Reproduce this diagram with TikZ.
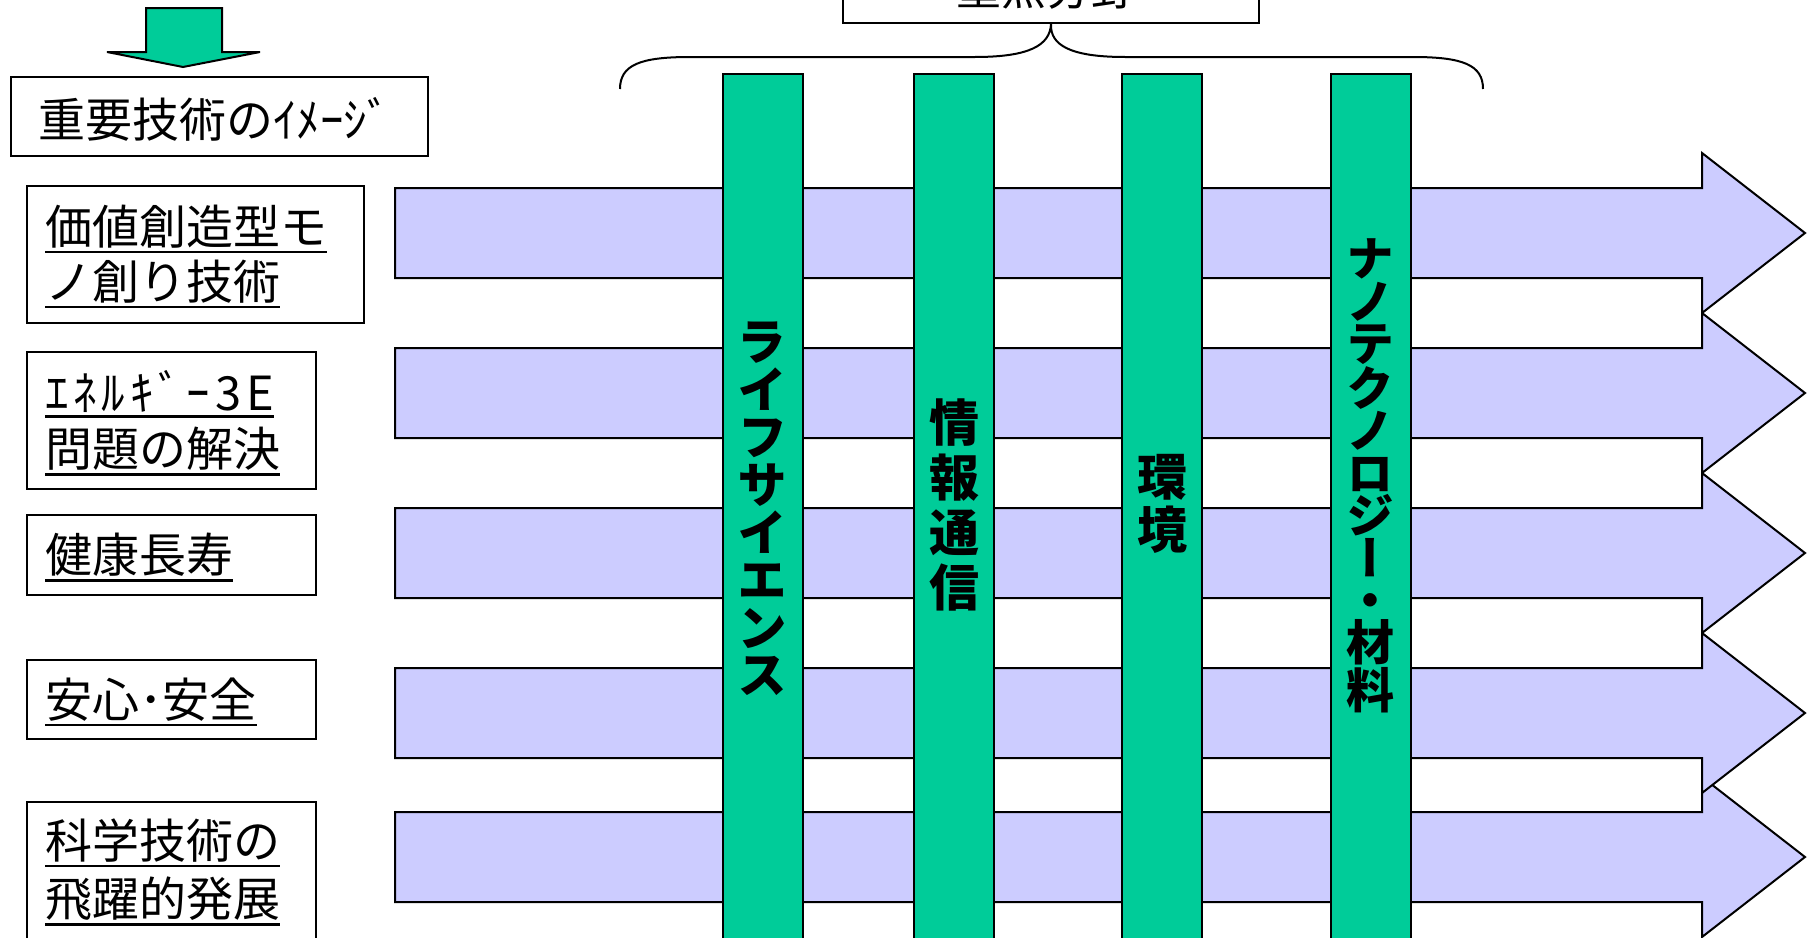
\documentclass[tikz,border=0pt]{standalone}
\usepackage{fontspec}
\setmainfont{Noto Sans CJK JP}
\newfontfamily\jpv{Noto Sans CJK JP}[RawFeature=+vert]
\definecolor{grn}{HTML}{00CC99}
\definecolor{lav}{HTML}{CCCCFF}
\newcommand\uline[1]{\vtop{\hbox{#1}\kern1.4pt\hrule height 1.4pt}}
\begin{document}
\begin{tikzpicture}[x=0.5pt,y=-0.5pt,
  box/.style={draw, line width=1pt, fill=white, inner sep=0pt, anchor=north west},
  lbl/.style={inner sep=0pt, anchor=base west, font=\fontsize{23.5}{28}\selectfont},
  bar/.style={draw, line width=1pt, fill=grn, inner sep=0pt, anchor=north west,
    minimum width=40pt, minimum height=450pt},
  vtxt/.style={inner sep=0pt, align=center, anchor=center},
  arr/.style={draw, line width=1pt, fill=lav, line join=miter}]
\useasboundingbox (0,0) rectangle (1809,937);
\clip (0,0) rectangle (1809,937);

% blue arrows (bottom first)
\foreach \c in {857,713,553,393,233}{
  \draw[arr] (395,\c-45) -- (1702,\c-45) -- (1702,\c-80) -- (1805,\c)
    -- (1702,\c+80) -- (1702,\c+45) -- (395,\c+45) -- cycle;
}

% green bars
\node[bar] (g1) at (722,73) {};
\node[bar] (g2) at (913,73) {};
\node[bar] (g3) at (1121,73) {};
\node[bar] (g4) at (1330,73) {};

\node[vtxt, font=\jpv\bfseries\fontsize{25}{23.8}\selectfont] (v1) at (762,509)
  {ラ\\イ\\フ\\サ\\イ\\エ\\ン\\ス};
\node[vtxt, font=\jpv\bfseries\fontsize{25}{27.5}\selectfont] (v2) at (954,505)
  {情\\報\\通\\信};
\node[vtxt, font=\jpv\bfseries\fontsize{25}{26.5}\selectfont] (v3) at (1162,504)
  {環\\境};
\node[vtxt, font=\jpv\bfseries\fontsize{24}{21.2}\selectfont] (v4) at (1370,476)
  {ナ\\ノ\\テ\\ク\\ノ\\ロ\\ジ\\ー\\・\\材\\料};

% top box and brace
\node[draw, line width=1pt, fill=white, inner sep=0pt, anchor=south west,
  minimum width=208pt, minimum height=45pt] (tb) at (842,24) {};
\node[inner sep=0pt, anchor=base, font=\fontsize{22.5}{27}\selectfont] (tt) at (1046,5) {重点分野};
\draw[line width=1pt] (620,89) .. controls (620,65) and (640,57) .. (690,57)
  -- (975,57) .. controls (1030,57) and (1050,45) .. (tb.south)
  .. controls (1050,45) and (1070,57) .. (1125,57)
  -- (1413,57) .. controls (1463,57) and (1483,65) .. (1483,89);

% down arrow
\draw[line width=1pt, fill=grn] (146,8) -- (222,8) -- (222,52) -- (260,52)
  -- (183,67) -- (107,52) -- (146,52) -- cycle;

% left boxes
\node[box, minimum width=208.5pt, minimum height=39.5pt] (b0) at (10,76) {};
\node[box, minimum width=168.5pt, minimum height=68.5pt] (b1) at (26,185) {};
\node[box, minimum width=144.5pt, minimum height=68.5pt] (b2) at (26,351) {};
\node[box, minimum width=144.5pt, minimum height=40pt] (b3) at (26,514) {};
\node[box, minimum width=144.5pt, minimum height=39.5pt] (b4) at (26,659) {};
\node[box, minimum width=144.5pt, minimum height=80pt] (b5) at (26,801) {};

\node[lbl] (t0) at (38,137) {重要技術のｲﾒｰｼﾞ};
\node[lbl] (t1a) at (45,244) {\uline{価値創造型モ}};
\node[lbl] (t1b) at (45,299) {\uline{ノ創り技術}};
\node[lbl] (t2a) at (45,410) {\uline{ｴ\kern2.4ptﾈ\kern2.4ptﾙ\kern2.4ptｷ\kern2.4ptﾞ\kern2.4ptｰ\kern2.4pt3\kern2.4ptE}};
\node[lbl] (t2b) at (45,466) {\uline{問題の解決}};
\node[lbl] (t3) at (45,572) {\uline{健康長寿}};
\node[lbl] (t4) at (45,717) {\uline{安心･安全}};
\node[lbl] (t5a) at (45,858) {\uline{科学技術の}};
\node[lbl] (t5b) at (45,916) {\uline{飛躍的発展}};
\end{tikzpicture}
\end{document}
